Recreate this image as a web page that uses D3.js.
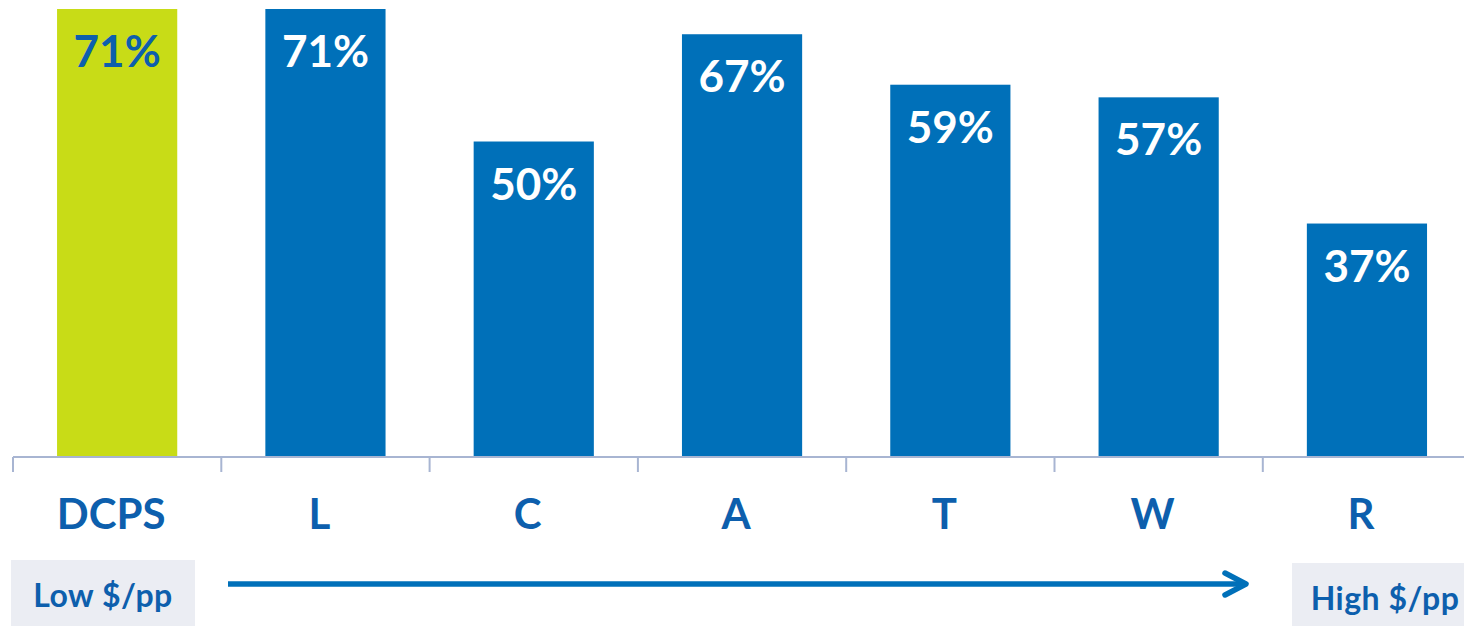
<!DOCTYPE html>
<html><head><meta charset="utf-8">
<script src="https://cdn.jsdelivr.net/npm/d3@7"></script>
<style>html,body{margin:0;padding:0;background:#fff;overflow:hidden}svg{display:block}</style>
</head><body>
<svg id="c" width="1464" height="626"></svg>
<script>
const categories = ["DCPS","L","C","A","T","W","R"];
const values = [71,71,50,67,59,57,37];
const highlight = ["DCPS"];
const rangeLabels = ["Low $/pp","High $/pp"];

const W = 1464, H = 626;
const svg = d3.select("#c");
const font = "Lato, 'Open Sans', sans-serif";
const blue = "#0070b9", green = "#c8dc17", textBlue = "#0d5fad", axisCol = "#a8b5d2";

const x0 = 13, step = 208.3;
const x = d3.scaleBand().domain(categories).range([x0, x0 + step*categories.length]).paddingInner(0.423).paddingOuter(0.2115);
const xb = d3.scaleBand().domain(categories).range([x0, x0 + step*categories.length]).padding(0);
const y = d3.scaleLinear().domain([0, 71]).range([457, 9]);

// bars
svg.selectAll("rect.bar").data(categories).join("rect")
  .attr("x", d => x(d)).attr("width", x.bandwidth())
  .attr("y", (d,i) => y(values[i])).attr("height", (d,i) => y(0) - y(values[i]))
  .attr("fill", d => highlight.includes(d) ? green : blue);

// value labels
svg.selectAll("text.val").data(categories).join("text")
  .attr("x", d => x(d) + x.bandwidth()/2)
  .attr("y", (d,i) => y(values[i]) + 58)
  .attr("text-anchor","middle")
  .attr("font-family", font).attr("font-weight", 700).attr("font-size", 44)
  .attr("fill", d => highlight.includes(d) ? textBlue : "#fff")
  .text((d,i) => values[i] + "%");

// axis
const axis = d3.axisBottom(xb).tickSize(0).tickFormat("");
const g = svg.append("g").attr("transform", `translate(0,${y(0)})`).call(axis);
g.select(".domain").attr("stroke", axisCol).attr("stroke-width", 2).attr("d", `M${x0},0H${W+10}`);
// boundary ticks
const bounds = categories.map(d => xb(d));
g.selectAll("line.bt").data(bounds).join("line")
  .attr("x1", d => d).attr("x2", d => d).attr("y1", 0).attr("y2", 15)
  .attr("stroke", axisCol).attr("stroke-width", 2);

// category labels
svg.selectAll("text.cat").data(categories).join("text")
  .attr("x", d => x(d) + x.bandwidth()/2 - 6).attr("y", 529)
  .attr("text-anchor","middle")
  .attr("font-family", font).attr("font-weight", 700).attr("font-size", 42)
  .attr("fill", textBlue).text(d => d);

// range boxes
svg.append("rect").attr("x", 11).attr("y", 560).attr("width", 184).attr("height", 70).attr("fill", "#ebedf3");
svg.append("text").attr("x", 103).attr("y", 607).attr("text-anchor","middle")
  .attr("font-family", font).attr("font-weight", 700).attr("font-size", 32).attr("letter-spacing", 0.5).attr("fill", textBlue).text(rangeLabels[0]);
svg.append("rect").attr("x", 1292).attr("y", 563).attr("width", 180).attr("height", 70).attr("fill", "#ebedf3");
svg.append("text").attr("x", 1385).attr("y", 610).attr("text-anchor","middle")
  .attr("font-family", font).attr("font-weight", 700).attr("font-size", 32).attr("letter-spacing", 0.5).attr("fill", textBlue).text(rangeLabels[1]);

// arrow
svg.append("line").attr("x1", 228).attr("x2", 1246).attr("y1", 584).attr("y2", 584)
  .attr("stroke", blue).attr("stroke-width", 5.5);
svg.append("path").attr("d", "M1225,573 L1246,584 L1225,595")
  .attr("fill","none").attr("stroke", blue).attr("stroke-width", 5.5).attr("stroke-linecap","round").attr("stroke-linejoin","round");
</script>
</body></html>
